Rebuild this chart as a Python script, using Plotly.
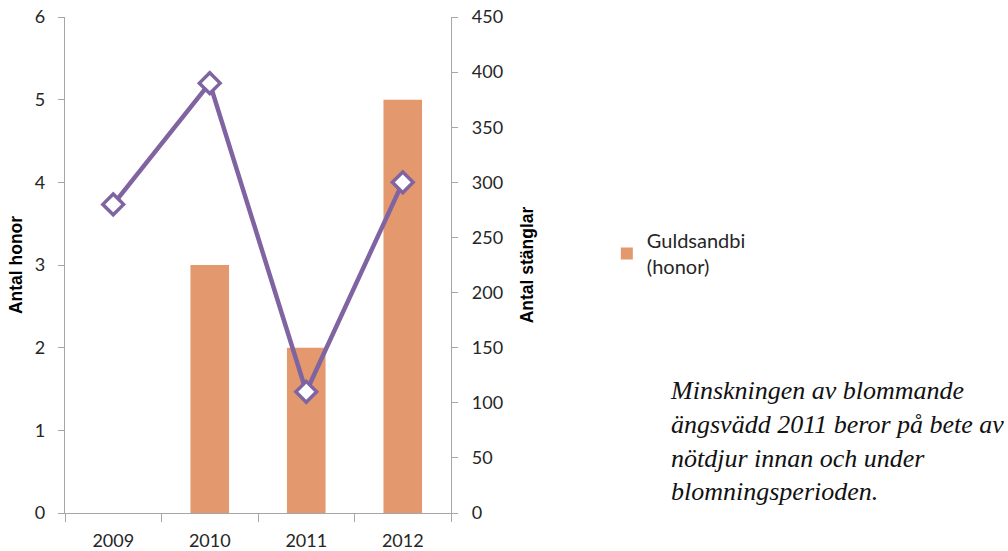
import plotly.graph_objects as go

years = ["2009", "2010", "2011", "2012"]
honor = [0, 3, 2, 5]
stanglar = [280, 390, 110, 300]
left_ticks = [0, 1, 2, 3, 4, 5, 6]
right_ticks = [0, 50, 100, 150, 200, 250, 300, 350, 400, 450]
note = ["Minskningen av blommande", "ängsvädd 2011 beror på bete av",
        "nötdjur innan och under", "blomningsperioden."]

AX = "#A6A6A6"
TXT = "#262626"
FONT = "Lato"

fig = go.Figure()
fig.add_trace(go.Bar(
    x=years, y=honor, name="Guldsandbi<br>(honor)", yaxis="y",
    width=0.4, marker=dict(color="#E3996D", line=dict(width=0)),
))
fig.add_trace(go.Scatter(
    x=years, y=stanglar, yaxis="y2", mode="lines+markers", showlegend=False,
    line=dict(color="#8064A2", width=4.5),
    marker=dict(symbol="diamond", size=16, color="white",
                line=dict(color="#8064A2", width=3.5)),
))

xd = [65 / 1008, 451 / 1008]
yd = [(551 - 513) / 551, (551 - 17) / 551]

fig.update_layout(
    width=1008, height=551,
    margin=dict(l=0, r=0, t=0, b=0),
    paper_bgcolor="white", plot_bgcolor="white",
    font=dict(family=FONT, size=18, color=TXT),
    xaxis=dict(domain=xd, type="category", tickson="boundaries",
               ticks="outside", ticklen=8, tickcolor=AX, showline=True,
               linecolor=AX, linewidth=1.3, showgrid=False, automargin=False,
               tickfont=dict(size=18), ticklabelstandoff=11),
    yaxis=dict(domain=yd, range=[0, 6], tickvals=left_ticks, ticks="outside",
               ticklen=6, tickcolor=AX, showline=True, linecolor=AX,
               linewidth=1.3, showgrid=False, zeroline=False, automargin=False,
               ticklabelstandoff=9, tickfont=dict(size=18),
               title=dict(text="<b>Antal honor</b>",
                          font=dict(size=17.5, family="Liberation Sans", color="#000000"),
                          standoff=7)),
    yaxis2=dict(overlaying="y", side="right", anchor="x", range=[0, 450],
                tickvals=right_ticks, ticks="outside", ticklen=6, tickcolor=AX,
                showline=True, linecolor=AX, linewidth=1.3, showgrid=False,
                zeroline=False, automargin=False, ticklabelstandoff=10,
                tickfont=dict(size=18),
                title=dict(text="<b>Antal stänglar</b>",
                           font=dict(size=17.5, family="Liberation Sans", color="#000000"),
                           standoff=18)),
    legend=dict(x=0.602, y=0.54, xanchor="left", yanchor="middle",
                font=dict(size=20), bgcolor="rgba(0,0,0,0)"),
)

fig.add_annotation(
    xref="paper", yref="paper", x=668 / 1008, y=(551 - 374) / 551,
    xanchor="left", yanchor="top", align="left", showarrow=False,
    text="<i>" + "<br>".join(note) + "</i>",
    font=dict(family="Liberation Serif", size=26, color="#111111"),
)

fig.write_html("out.html", config={"displayModeBar": False},
               post_script="document.body.style.margin='0';")
